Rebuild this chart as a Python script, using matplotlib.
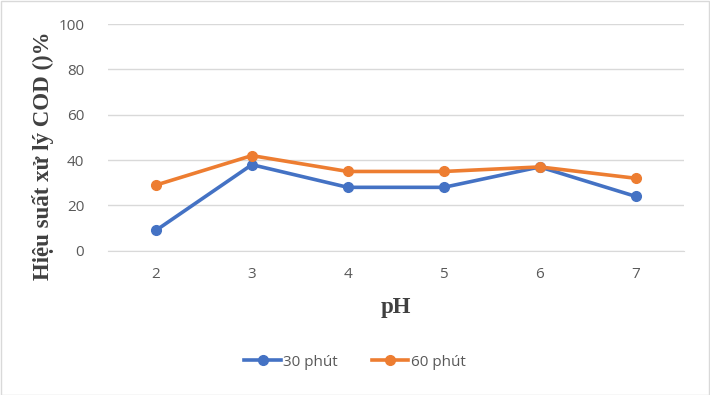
import matplotlib.pyplot as plt
from matplotlib.patches import Rectangle

# pH values and COD removal efficiency (%)
ph = ['2', '3', '4', '5', '6', '7']
t30 = [9, 38, 28, 28, 37, 24]
t60 = [29, 42, 35, 35, 37, 32]

fig = plt.figure(figsize=(7.1, 3.95), dpi=100)
ax = fig.add_axes([0.152, 0.365, 0.811, 0.574])

x = range(len(ph))
ax.plot(x, t30, color='#4472C4', lw=2.6, marker='o', ms=7, label='30 phút', zorder=3)
ax.plot(x, t60, color='#ED7D31', lw=2.6, marker='o', ms=7, label='60 phút', zorder=3)

ax.set_xlim(-0.5, len(ph) - 0.5)
ax.set_ylim(0, 100)
ax.set_yticks(range(0, 101, 20))
ax.set_xticks(list(x))
ax.set_xticklabels(ph)
ax.grid(axis='y', color='#D9D9D9', lw=1)
ax.set_axisbelow(True)
for s in ['top', 'right', 'left']:
    ax.spines[s].set_visible(False)
ax.spines['bottom'].set_color('#D9D9D9')
ax.tick_params(length=0, colors='#595959', labelsize=11)
ax.tick_params(axis='y', pad=17)
ax.tick_params(axis='x', pad=12)
for lbl in ax.get_xticklabels() + ax.get_yticklabels():
    lbl.set_family('Open Sans')

ax.set_ylabel('Hiệu suất xử lý COD ()%', family='Liberation Serif', fontweight='bold',
              fontsize=16.5, color='#404040', va='center')
ax.yaxis.set_label_coords(-0.113, 0.42)
ax.set_xlabel('pH', family='Liberation Serif', fontweight='bold', fontsize=16.5,
              color='#404040', va='center')
ax.xaxis.set_label_coords(0.5, -0.25)

leg = fig.legend(loc='center', bbox_to_anchor=(0.5, 0.083), ncol=2, frameon=False,
                 prop={'family': 'Open Sans', 'size': 11}, handlelength=2.4,
                 columnspacing=2.2, handletextpad=0.15)
for t in leg.get_texts():
    t.set_color('#595959')

fig.patches.append(Rectangle((0.001, 0.001), 0.997, 0.997, transform=fig.transFigure,
                             fill=False, ec='#D9D9D9', lw=1))

fig.savefig('out.png', dpi=100)
